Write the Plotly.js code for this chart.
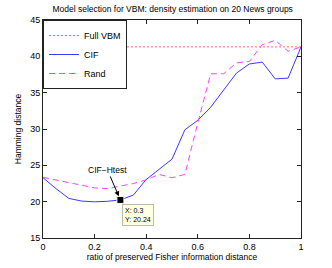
<!DOCTYPE html>
<html>
<head>
<meta charset="utf-8">
<script src="https://cdn.plot.ly/plotly-3.0.1.min.js"></script>
<style>html,body{margin:0;padding:0;background:#fff;}#chart{width:332px;height:268px;}</style>
</head>
<body>
<div id="chart"></div>
<script>
// ---- data ----
const xRatio = [0,0.05,0.1,0.15,0.2,0.25,0.3,0.35,0.4,0.45,0.5,0.55,0.6,0.65,0.7,0.75,0.8,0.85,0.9,0.95,1.0];
const cifY   = [23.3,21.8,20.45,20.08,19.98,20.05,20.24,20.9,23.05,24.45,25.85,29.9,31.2,33.0,35.3,37.7,38.95,39.2,36.9,37.0,41.3];
const randY  = [23.35,23.0,22.6,22.25,21.9,21.8,22.1,22.5,23.0,23.75,23.3,23.75,30.85,37.6,37.6,39.1,39.3,41.6,42.2,40.7,41.3];
const fullX  = [0,1];
const fullY  = [41.3,41.3];
const tipX   = [0.3];
const tipY   = [20.24];
const seriesNames = ["Full VBM","CIF","Rand"];
const xTicks = [0,0.2,0.4,0.6,0.8,1];
const xTickText = ["0","0.2","0.4","0.6","0.8","1"];
const yTicks = [15,20,25,30,35,40,45];

const FONT = "Liberation Sans, Arial, Helvetica, sans-serif";

const traces = [
  {x: fullX, y: fullY, name: seriesNames[0], mode: "lines",
   line: {color: "#ff6a6a", width: 1, dash: "2px,2px"}},
  {x: xRatio, y: cifY, name: seriesNames[1], mode: "lines",
   line: {color: "#3a3aff", width: 1}},
  {x: xRatio, y: randY, name: seriesNames[2], mode: "lines",
   line: {color: "#ff40ff", width: 1, dash: "6px,4px"}},
  {x: tipX, y: tipY, mode: "markers", showlegend: false, hoverinfo: "skip",
   marker: {symbol: "square", size: 7, color: "#000", line: {color: "#ffffe1", width: 1}}}
];

const axisCommon = {
  showgrid: false, zeroline: false, showline: true, mirror: "allticks",
  linecolor: "#222", linewidth: 1, ticks: "inside", ticklen: 4, tickcolor: "#222",
  tickfont: {family: FONT, size: 9, color: "#000"}
};

const layout = {
  width: 332, height: 268,
  margin: {l: 43, r: 31, t: 20, b: 30},
  paper_bgcolor: "#fff", plot_bgcolor: "#fff",
  font: {family: FONT, size: 9, color: "#000"},
  title: {text: "Model selection for VBM: density estimation on 20 News groups",
          font: {family: FONT, size: 8.5, color: "#000"}, x: 0.52, xanchor: "center", y: 0.966, yanchor: "middle"},
  xaxis: Object.assign({}, axisCommon, {
    range: [0, 1], tickvals: xTicks, ticktext: xTickText,
    title: {text: "ratio of preserved Fisher information distance", font: {family: FONT, size: 8.5}, standoff: 0}
  }),
  yaxis: Object.assign({}, axisCommon, {
    range: [15, 45], tickvals: yTicks,
    title: {text: "Hamming distance", font: {family: FONT, size: 8.5}, standoff: 7}
  }),
  showlegend: true,
  legend: {x: 0, y: 1, xanchor: "left", yanchor: "top", bgcolor: "#fff",
           bordercolor: "#222", borderwidth: 1, font: {family: FONT, size: 9},
           tracegroupgap: 0, itemwidth: 30, traceorder: "normal"},
  annotations: [
    {x: tipX[0], y: tipY[0], xref: "x", yref: "y", text: "CIF\u2212Htest",
     showarrow: true, arrowhead: 2, arrowsize: 1, arrowwidth: 1, arrowcolor: "#000",
     ax: -13, ay: -30, standoff: 4, font: {family: FONT, size: 8.5, color: "#000"}},
    {x: tipX[0], y: tipY[0], xref: "x", yref: "y", text: "X: 0.3<br>Y: 20.24",
     showarrow: false, xanchor: "left", yanchor: "top", xshift: 2, yshift: -4, align: "left",
     bgcolor: "#ffffe1", bordercolor: "#bbbbaa", borderwidth: 1, borderpad: 2,
     font: {family: FONT, size: 7, color: "#000"}}
  ]
};

Plotly.newPlot("chart", traces, layout, {displayModeBar: false, staticPlot: true});
</script>
</body>
</html>
